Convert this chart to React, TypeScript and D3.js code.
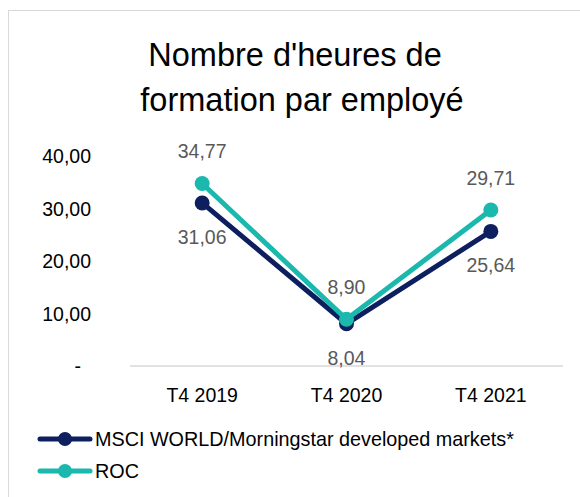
import React from "react";
import * as d3 from "d3";

const categories = ["T4 2019", "T4 2020", "T4 2021"];
const msciValues = [31.06, 8.04, 25.64];
const rocValues = [34.77, 8.9, 29.71];
const yTicks = [0, 10, 20, 30, 40];
const seriesNames = ["MSCI WORLD/Morningstar developed markets*", "ROC"];

const NAVY = "#0d1f5e";
const TEAL = "#1ab8ad";
const FONT = "'Liberation Sans', Arial, sans-serif";

const fmt = (v: number) => (v === 0 ? "-" : v.toFixed(2).replace(".", ","));

const App = () => {
  const width = 580;
  const height = 497;

  const x = d3.scaleBand<string>().domain(categories).range([130, 563]);
  const y = d3.scaleLinear().domain([0, 40]).range([366, 156]);
  const cx = (c: string) => (x(c) ?? 0) + x.bandwidth() / 2;

  const line = d3
    .line<number>()
    .x((_, i) => cx(categories[i]))
    .y((d) => y(d));

  const series = [
    { name: seriesNames[0], values: msciValues, color: NAVY, above: false },
    { name: seriesNames[1], values: rocValues, color: TEAL, above: true },
  ];

  return (
    <svg width={width} height={height} style={{ position: "absolute", left: 0, top: 0 }}>
      <rect x={0} y={0} width={width} height={height} fill="#fff" />
      <rect x={8.5} y={10.5} width={620} height={540} fill="#fff" stroke="#d9d9d9" />

      <g fontFamily={FONT} fontSize={32.5} fill="#000" textAnchor="middle">
        <text x={295} y={66}>Nombre d'heures de</text>
        <text x={302} y={111}>formation par employé</text>
      </g>

      {/* y axis labels */}
      <g fontFamily={FONT} fontSize={19.5} fill="#000" textAnchor="end">
        {yTicks.map((t) => (
          <text key={t} x={t === 0 ? 81 : 91} y={y(t) + 7}>
            {fmt(t)}
          </text>
        ))}
      </g>

      <line x1={130} x2={563} y1={y(0)} y2={y(0)} stroke="#d9d9d9" strokeWidth={1.5} />

      {/* x labels */}
      <g fontFamily={FONT} fontSize={19.5} fill="#000" textAnchor="middle">
        {categories.map((c) => (
          <text key={c} x={cx(c)} y={402}>
            {c}
          </text>
        ))}
      </g>

      {series.map((s) => (
        <g key={s.name}>
          <path d={line(s.values) ?? ""} fill="none" stroke={s.color} strokeWidth={5} />
          {s.values.map((v, i) => (
            <circle key={i} cx={cx(categories[i])} cy={y(v)} r={7.5} fill={s.color} />
          ))}
        </g>
      ))}

      {series.map((s) => (
        <g key={s.name + "-labels"} fontFamily={FONT} fontSize={19.5} fill="#595959" textAnchor="middle">
          {s.values.map((v, i) => (
            <text key={i} x={cx(categories[i])} y={y(v) + (s.above ? -25 : 41)}>
              {fmt(v)}
            </text>
          ))}
        </g>
      ))}

      {/* legend */}
      {series.map((s, i) => {
        const ly = 439 + i * 32;
        return (
          <g key={s.name + "-legend"}>
            <line x1={40} x2={90} y1={ly} y2={ly} stroke={s.color} strokeWidth={5} strokeLinecap="round" />
            <circle cx={65} cy={ly} r={7} fill={s.color} />
            <text x={95} y={ly + 7} fontFamily={FONT} fontSize={19.8} fill="#000">
              {s.name}
            </text>
          </g>
        );
      })}
    </svg>
  );
};

export default App;
